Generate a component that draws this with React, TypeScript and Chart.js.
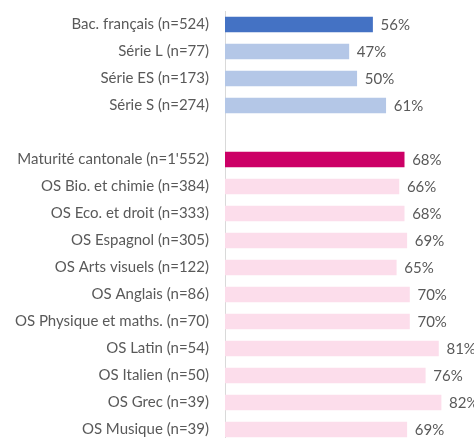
import React, { useEffect, useRef } from "react";
import { Chart, registerables } from "chart.js";

Chart.register(...registerables);

const categories: string[] = [
  "Bac. français (n=524)",
  "Série L (n=77)",
  "Série ES (n=173)",
  "Série S (n=274)",
  "",
  "Maturité cantonale (n=1'552)",
  "OS Bio. et chimie (n=384)",
  "OS Eco. et droit (n=333)",
  "OS Espagnol (n=305)",
  "OS Arts visuels (n=122)",
  "OS Anglais (n=86)",
  "OS Physique et maths. (n=70)",
  "OS Latin (n=54)",
  "OS Italien (n=50)",
  "OS Grec (n=39)",
  "OS Musique (n=39)",
];

const values: (number | null)[] = [56, 47, 50, 61, null, 68, 66, 68, 69, 65, 70, 70, 81, 76, 82, 69];

const barColors: string[] = [
  "#4472C4",
  "#B4C7E7",
  "#B4C7E7",
  "#B4C7E7",
  "rgba(0,0,0,0)",
  "#CC0066",
  "#FCDDEB",
  "#FCDDEB",
  "#FCDDEB",
  "#FCDDEB",
  "#FCDDEB",
  "#FCDDEB",
  "#FCDDEB",
  "#FCDDEB",
  "#FCDDEB",
  "#FCDDEB",
];

const FONT = "Lato, 'Noto Sans', sans-serif";
const TEXT_COLOR = "#595959";

const valueLabels = {
  id: "valueLabels",
  afterDatasetsDraw(chart: any) {
    const ctx = chart.ctx;
    const meta = chart.getDatasetMeta(0);
    ctx.save();
    ctx.font = `15px ${FONT}`;
    ctx.fillStyle = TEXT_COLOR;
    ctx.textAlign = "left";
    ctx.textBaseline = "middle";
    meta.data.forEach((bar: any, i: number) => {
      const v = values[i];
      if (v === null || v === undefined) return;
      ctx.fillText(`${v}%`, bar.x + 8, bar.y + 1);
    });
    ctx.restore();
  },
};

export default function App() {
  const ref = useRef<HTMLCanvasElement | null>(null);
  useEffect(() => {
    if (!ref.current) return;
    const chart = new Chart(ref.current, {
      type: "bar",
      data: {
        labels: categories,
        datasets: [
          {
            data: values,
            backgroundColor: barColors,
            barThickness: 15,
          },
        ],
      },
      options: {
        indexAxis: "y",
        animation: false,
        responsive: false,
        devicePixelRatio: 1,
        layout: { padding: { top: 11, bottom: 0, left: 0, right: 0 } },
        plugins: {
          legend: { display: false },
          tooltip: { enabled: false },
          title: { display: false },
        },
        scales: {
          x: {
            display: false,
            min: 0,
            max: 94.5,
          },
          y: {
            afterFit: (s: any) => {
              s.width = 225;
              s.paddingTop = 0;
              s.paddingBottom = 0;
            },
            grid: { display: false, drawTicks: false },
            border: { display: true, color: "#D9D9D9", width: 1 },
            ticks: {
              padding: 16,
              color: TEXT_COLOR,
              font: { family: FONT, size: 15 },
              autoSkip: false,
            },
          },
        },
      },
      plugins: [valueLabels],
    });
    return () => chart.destroy();
  }, []);
  return (
    <div style={{ position: "fixed", left: 0, top: 0, width: 474, height: 443, background: "#fff" }}>
      <canvas ref={ref} width={474} height={443} style={{ display: "block" }} />
    </div>
  );
}
